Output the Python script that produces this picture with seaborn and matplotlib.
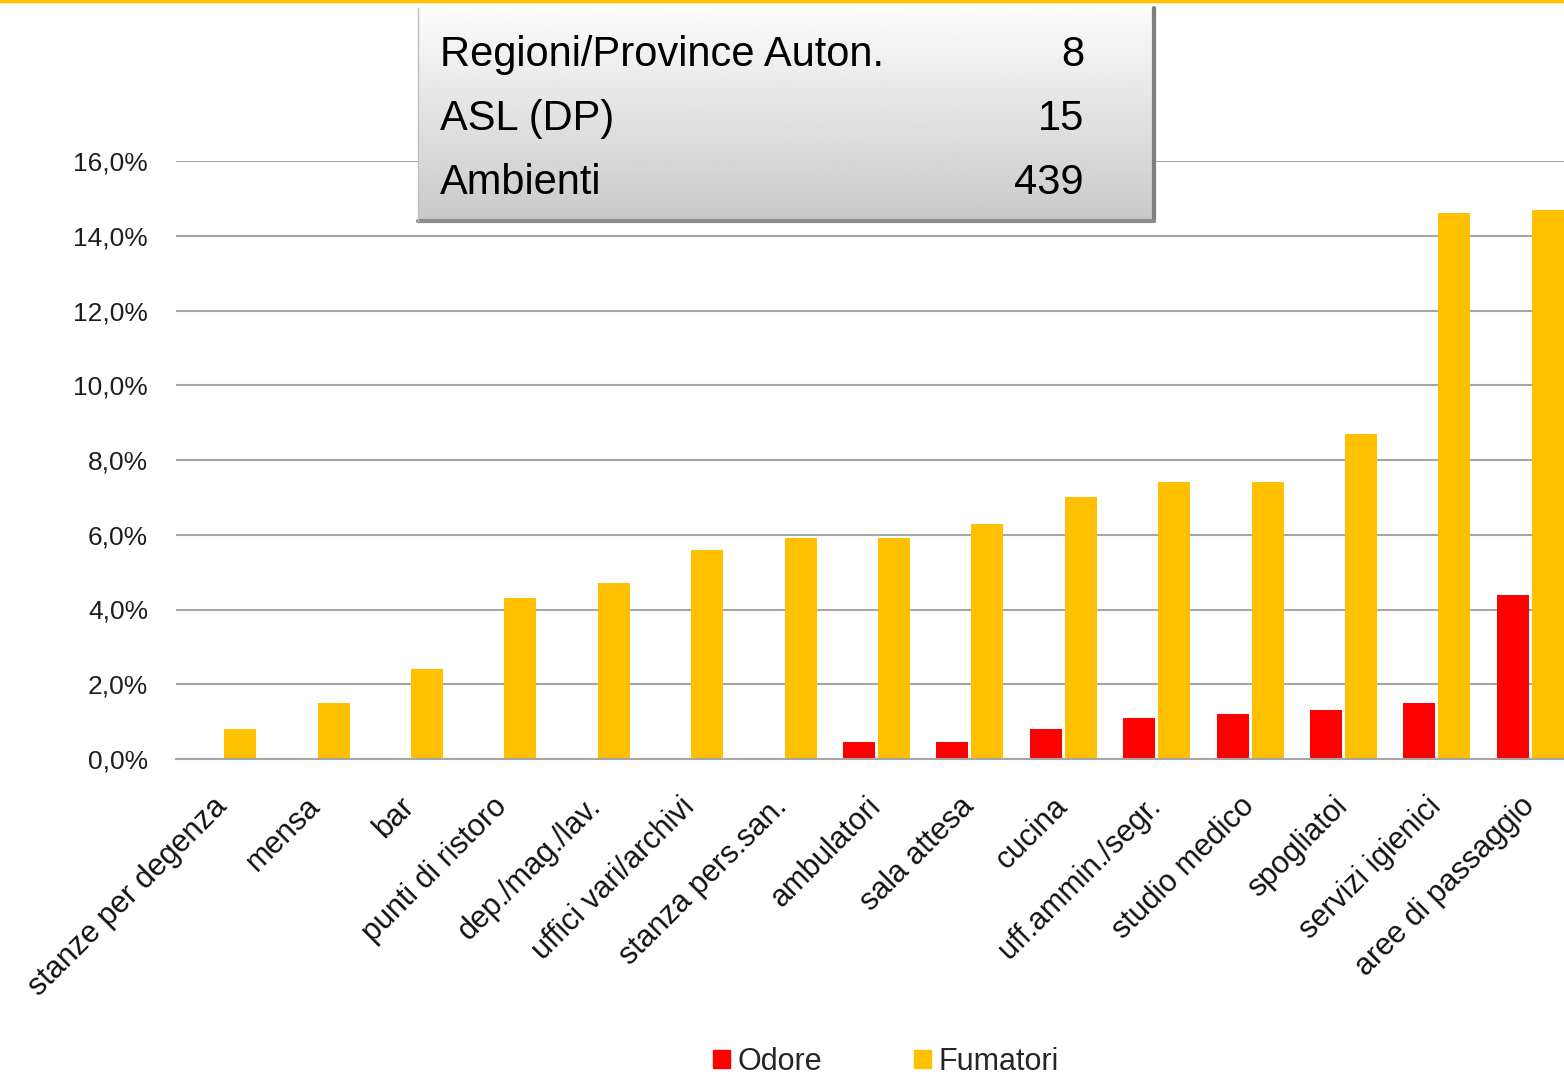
import numpy as np
import pandas as pd
import seaborn as sns
import matplotlib.pyplot as plt
from matplotlib.patches import Patch
from matplotlib.lines import Line2D
from matplotlib.ticker import FuncFormatter

ambienti = ['stanze per degenza', 'mensa', 'bar', 'punti di ristoro', 'dep./mag./lav.',
            'uffici vari/archivi', 'stanza pers.san.', 'ambulatori', 'sala attesa', 'cucina',
            'uff.ammin./segr.', 'studio medico', 'spogliatoi', 'servizi igienici',
            'aree di passaggio']
odore = [0, 0, 0, 0, 0, 0, 0, 0.46, 0.46, 0.8, 1.1, 1.2, 1.3, 1.5, 4.4]
fumatori = [0.8, 1.5, 2.4, 4.3, 4.7, 5.6, 5.9, 5.9, 6.3, 7.0, 7.4, 7.4, 8.7, 14.6, 14.7]

box_labels = ['Regioni/Province Auton.', 'ASL (DP)', 'Ambienti']
box_values = ['8', '15', '439']

df = pd.DataFrame({'ambiente': ambienti, 'Odore': odore, 'Fumatori': fumatori})
df = df.melt(id_vars='ambiente', var_name='serie', value_name='valore')

sns.set_style('white')
plt.rcParams['font.family'] = ['Liberation Sans', 'DejaVu Sans']

W, H = 1564, 1077
fig = plt.figure(figsize=(W / 100, H / 100), dpi=100)
ax = fig.add_axes([176 / W, 1 - 759 / H, (1577 - 176) / W, (759 - 161) / H])

colori = {'Odore': '#FF0000', 'Fumatori': '#FFC000'}
sns.barplot(data=df, x='ambiente', y='valore', hue='serie', hue_order=['Odore', 'Fumatori'],
            palette=colori, saturation=1, width=0.75, gap=0.09, linewidth=0,
            legend=False, ax=ax)

ax.set_ylim(0, 16)
ax.set_yticks(np.arange(0, 17, 2))
ax.yaxis.set_major_formatter(FuncFormatter(lambda v, p: f'{v:.1f}%'.replace('.', ',')))
ax.yaxis.grid(True, color='#a6a6a6', linewidth=1.5)
ax.set_axisbelow(True)
for s in ['left', 'right', 'top']:
    ax.spines[s].set_visible(False)
ax.spines['bottom'].set_color('#a6a6a6')
ax.spines['bottom'].set_linewidth(1.5)
ax.set_xlabel('')
ax.set_ylabel('')
ax.tick_params(axis='y', length=0, pad=20, labelsize=19, labelcolor='#1e1e1e')
ax.tick_params(axis='x', length=0, pad=31, labelsize=22, labelcolor='#111111')
for lab in ax.get_xticklabels():
    lab.set_rotation(45)
    lab.set_ha('right')
    lab.set_va('center')
    lab.set_rotation_mode('anchor')

# riquadro riepilogo
bx = fig.add_axes([418 / W, 1 - 221 / H, (1154 - 418) / W, (221 - 8) / H])
grad = np.linspace(0.985, 0.79, 100).reshape(-1, 1)
bx.imshow(grad, cmap='gray', vmin=0, vmax=1, aspect='auto', extent=[0, 1, 0, 1])
bx.set_xlim(0, 1)
bx.set_ylim(0, 1)
bx.set_xticks([])
bx.set_yticks([])
for s in bx.spines.values():
    s.set_visible(False)
bx.plot([1, 1], [0, 1], color='#7f7f7f', lw=3, transform=bx.transAxes, clip_on=False)
bx.plot([0, 1], [0, 0], color='#8c8c8c', lw=3, transform=bx.transAxes, clip_on=False)
bx.plot([0, 0], [0, 1], color='#bfbfbf', lw=1, transform=bx.transAxes, clip_on=False)
righe_y = [0.78, 0.48, 0.18]
for lab, val, yy in zip(box_labels, box_values, righe_y):
    bx.text(0.03, yy, lab, fontsize=30, va='center', ha='left', color='black')
    bx.text(0.905, yy, val, fontsize=30, va='center', ha='right', color='black')

# linea gialla in alto
fig.add_artist(Line2D([0, 1], [1 - 1 / H, 1 - 1 / H], color='#FFC000', lw=2.5,
                      transform=fig.transFigure))

handles = [Patch(color=colori['Odore'], label='Odore'),
           Patch(color=colori['Fumatori'], label='Fumatori')]
fig.legend(handles=handles, loc='center', bbox_to_anchor=(886 / W, 1 - 1062 / H), ncol=2,
           frameon=False, fontsize=22, handlelength=0.55, handleheight=0.55,
           handletextpad=0.25, columnspacing=3.0)

fig.savefig('out.png', dpi=100)
